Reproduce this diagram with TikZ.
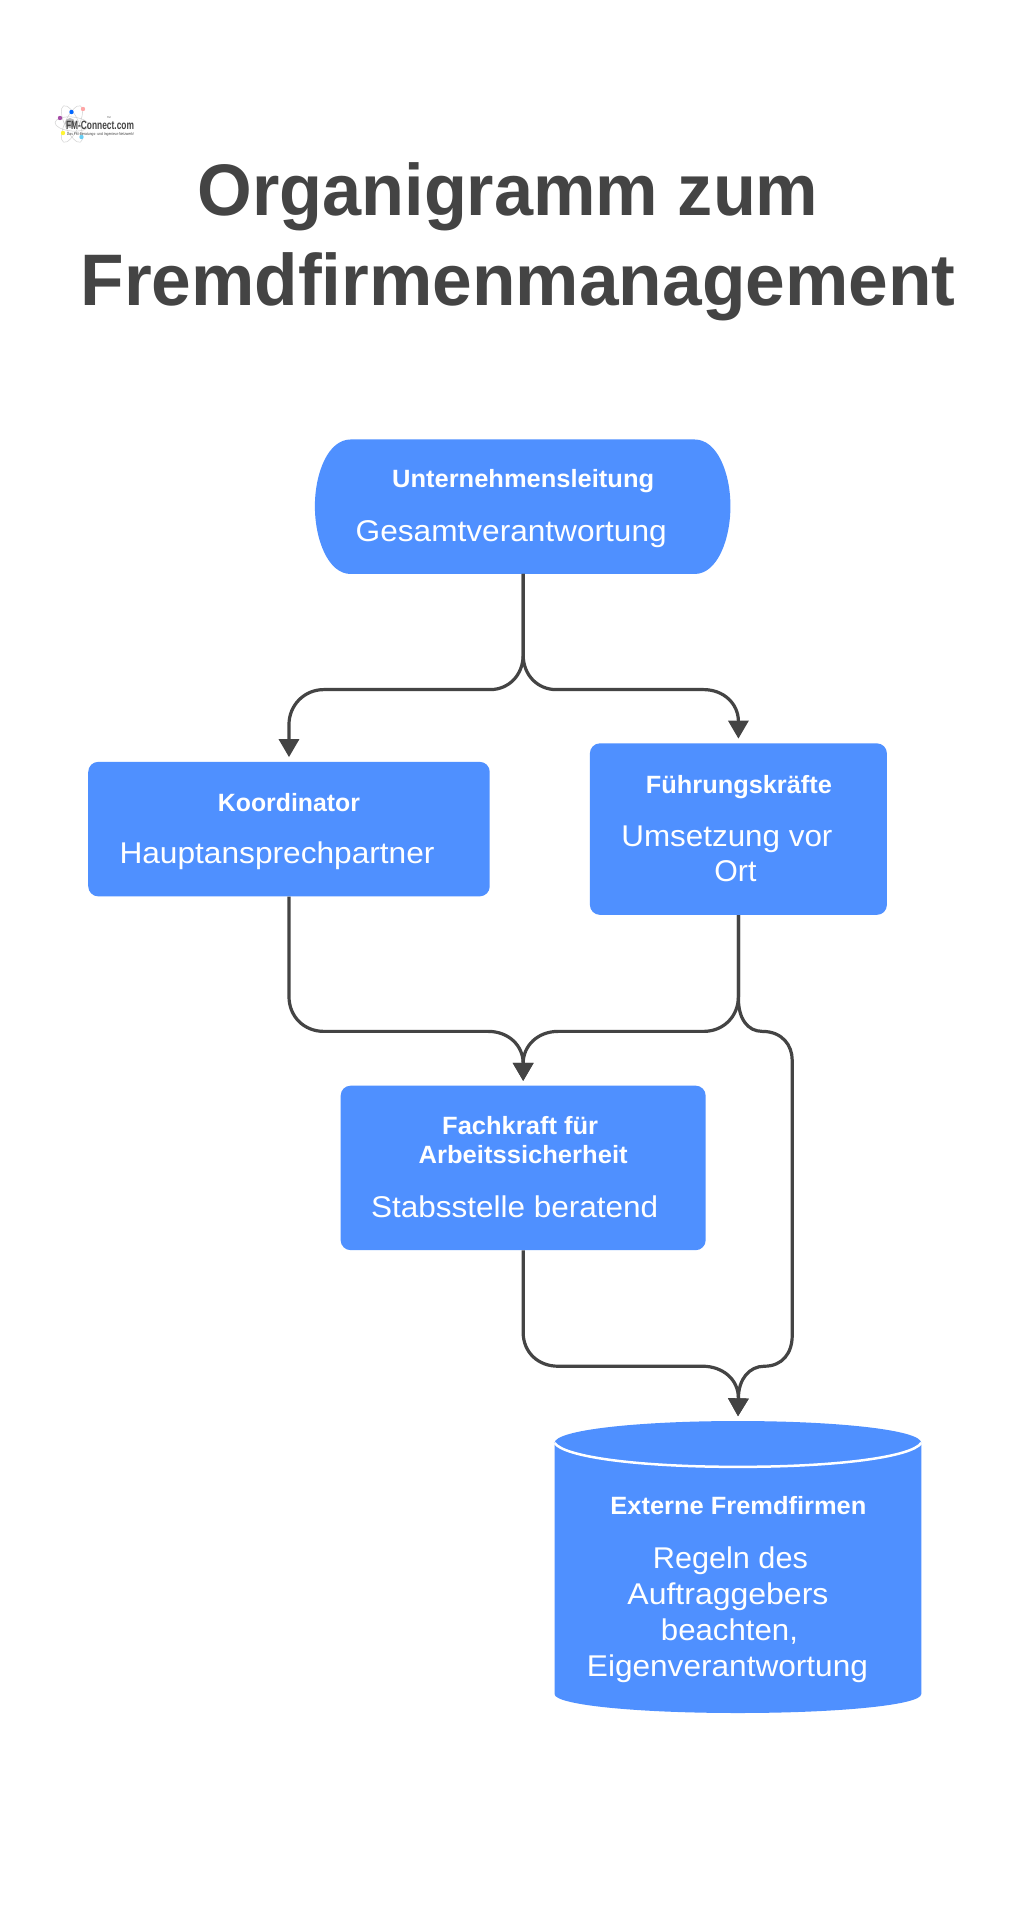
\documentclass[tikz,border=0pt]{standalone}
\usepackage{graphicx}
\usepackage{fontspec}
\usetikzlibrary{arrows.meta}
\setmainfont{Liberation Sans}
\definecolor{bluefill}{HTML}{4F90FF}
\definecolor{ink}{HTML}{444444}
\newcommand{\fitw}[2]{\resizebox{#1pt}{\height}{#2}}
\tikzset{
  box/.style={fill=bluefill,rounded corners=10pt,inner sep=0pt,draw=none},
  ghost/.style={inner sep=0pt,draw=none,fill=none},
  head/.style={text=white,anchor=base,inner sep=0pt,font=\bfseries\fontsize{25}{25}\selectfont},
  body/.style={text=white,anchor=base,inner sep=0pt,font=\fontsize{30}{30}\selectfont},
  titletext/.style={text=ink,anchor=base,inner sep=0pt,font=\bfseries\fontsize{73}{73}\selectfont},
  link/.style={draw=ink,line width=3.2pt},
  linkarrow/.style={link,-{Triangle[length=18pt,width=20pt]},shorten >=4.5pt},
  orbit/.style={draw=black!18,line width=0.5pt,fill=none},
  logotext/.style={text=ink,anchor=base,inner sep=0pt}
}
\begin{document}
\begin{tikzpicture}[x=1pt,y=-1pt]
\useasboundingbox[fill=white] (0,0) rectangle (1033,1920);
% logo
\draw[orbit,rotate around={25:(72,124)}] (72,124) ellipse (7 and 20);
\draw[orbit,rotate around={-25:(72,124)}] (72,124) ellipse (7 and 20);
\draw[orbit,rotate around={85:(72,124)}] (72,124) ellipse (7 and 17);
\fill[gray!55] (70,123) circle (5);
\fill[violet!70] (60,118) circle (2.2);
\fill[blue!60!cyan] (71.5,112) circle (2.2);
\fill[red!35] (83,109) circle (2.2);
\fill[yellow!80] (63,133) circle (2.2);
\fill[cyan!60] (81.5,137) circle (2.2);
\node[logotext,font=\bfseries\fontsize{12}{12}\selectfont] (logoa) at (100,129) {\fitw{68}{FM-Connect.com}};
\node[logotext,font=\fontsize{4}{4}\selectfont] (logob) at (100.5,135) {\fitw{67}{Das FM-Beratungs- und Ingenieur-Netzwerk!}};
\node[logotext,font=\fontsize{2.5}{2.5}\selectfont] (logoc) at (109,118) {TM};
% title
\node[titletext] (title1) at (508,215) {\fitw{621}{Organigramm zum}};
\node[titletext] (title2) at (518,305) {\fitw{875}{Fremdfirmenmanagement}};
\begin{scope}[x=0.9965pt,y=-0.9965pt]
% pill
\fill[bluefill] (352,441) -- (697,441) .. controls (720,441) and (733,475) .. (733,508)
  .. controls (733,541) and (720,576) .. (697,576) -- (352,576)
  .. controls (329,576) and (316,541) .. (316,508) .. controls (316,475) and (329,441) .. (352,441) -- cycle;
\node[ghost,minimum width=415.5pt,minimum height=134pt] (pill) at (525,508.5) {};
% boxes
\node[box,minimum width=401.5pt,minimum height=134.5pt] (koord) at (290,832) {};
\node[box,minimum width=297pt,minimum height=171.5pt] (fuehr) at (741,832) {};
\node[box,minimum width=365pt,minimum height=164.5pt] (fach) at (525,1172) {};
% cylinder
\fill[bluefill] (556.5,1448) .. controls (556.5,1435) and (640,1426) .. (740.5,1426)
  .. controls (841,1426) and (924.5,1435) .. (924.5,1448) -- (924.5,1700)
  .. controls (924.5,1711) and (841,1719) .. (740.5,1719)
  .. controls (640,1719) and (556.5,1711) .. (556.5,1700) -- cycle;
\draw[white,line width=2.5pt] (556.5,1448) .. controls (566,1462) and (640,1472) .. (740.5,1472)
  .. controls (841,1472) and (915,1462) .. (924.5,1448);
\node[ghost,minimum width=367pt,minimum height=292pt] (cyl) at (740.5,1572.5) {};
% labels
\node[head] (l1a) at (525,489) {\fitw{262}{Unternehmensleitung}};
\node[body] (l1b) at (513,543) {\fitw{311}{Gesamtverantwortung}};
\node[head] (l2a) at (290,814) {\fitw{142}{Koordinator}};
\node[body] (l2b) at (278,867) {\fitw{315}{Hauptansprechpartner}};
\node[head] (l3a) at (741.5,796) {\fitw{186}{Führungskräfte}};
\node[body] (l3b) at (729.5,849) {\fitw{211}{Umsetzung vor}};
\node[body] (l3c) at (738,885) {\fitw{42}{Ort}};
\node[head] (l4a) at (522,1138) {\fitw{156}{Fachkraft für}};
\node[head] (l4b) at (525,1168) {\fitw{209}{Arbeitssicherheit}};
\node[body] (l4c) at (516.5,1222) {\fitw{287}{Stabsstelle beratend}};
\node[head] (l5a) at (741,1520) {\fitw{256}{Externe Fremdfirmen}};
\node[body] (l5b) at (733,1574) {\fitw{155}{Regeln des}};
\node[body] (l5c) at (730.5,1610) {\fitw{201}{Auftraggebers}};
\node[body] (l5d) at (732,1646) {\fitw{137}{beachten,}};
\node[body] (l5e) at (730,1682) {\fitw{281}{Eigenverantwortung}};
% connectors
\draw[linkarrow] (pill.south) -- (525,657) .. controls (525,678) and (510,692) .. (492,692)
  -- (325,692) .. controls (305,692) and (290,708) .. (290,727) -- (koord.north);
\draw[linkarrow] (pill.south) -- (525,657) .. controls (525,678) and (540,692) .. (558,692)
  -- (706,692) .. controls (726,692) and (741,706) .. (741,724) -- (fuehr.north);
\draw[linkarrow] (koord.south) -- (290,1000) .. controls (290,1020) and (305,1035) .. (325,1035)
  -- (490,1035) .. controls (510,1035) and (525,1049) .. (525,1067) -- (fach.north);
\draw[linkarrow] (fuehr.south) -- (741,1000) .. controls (741,1020) and (726,1035) .. (706,1035)
  -- (560,1035) .. controls (540,1035) and (525,1049) .. (525,1067) -- (fach.north);
\draw[linkarrow] (fuehr.south) -- (741,1002) .. controls (741,1022) and (750,1035) .. (765,1035)
  .. controls (785,1035) and (795,1049) .. (795,1064) -- (795,1340)
  .. controls (795,1358) and (785,1371) .. (767,1371)
  .. controls (752,1371) and (741,1384) .. (741,1403) -- (cyl.north);
\draw[linkarrow] (fach.south) -- (525,1337) .. controls (525,1357) and (540,1371) .. (560,1371)
  -- (705,1371) .. controls (725,1371) and (741,1384) .. (741,1403) -- (cyl.north);
\end{scope}
\end{tikzpicture}
\end{document}
